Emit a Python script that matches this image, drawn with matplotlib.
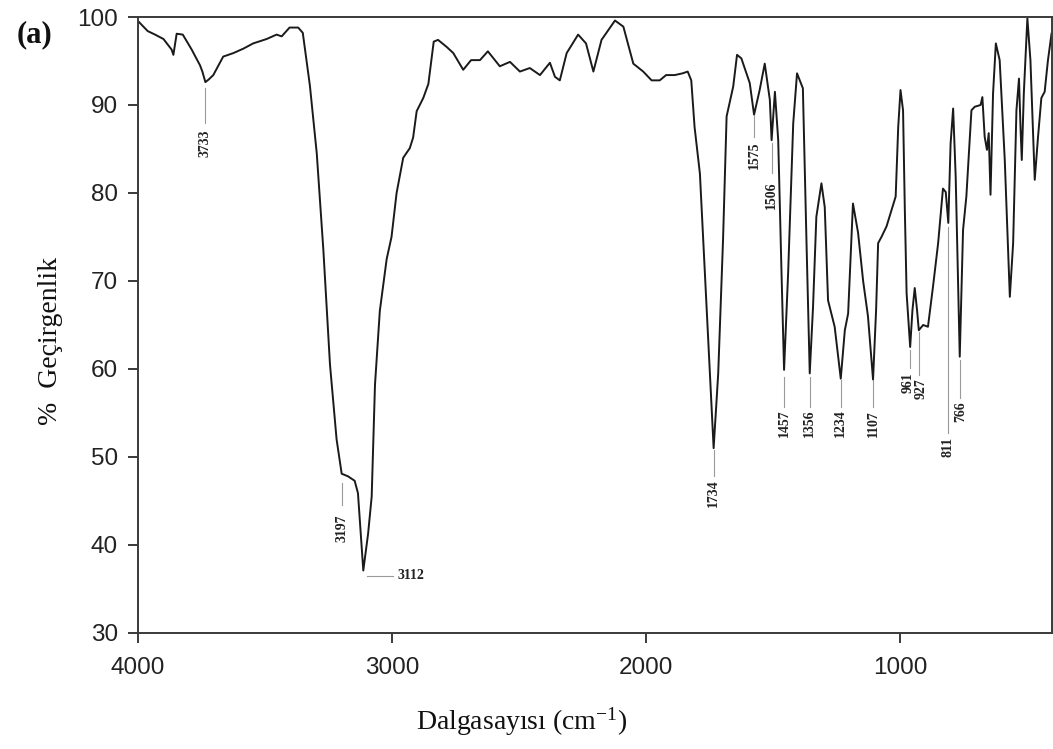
import numpy as np
import matplotlib
matplotlib.use("Agg")
import matplotlib.pyplot as plt

plt.rcParams['mathtext.fontset'] = 'custom'
plt.rcParams['mathtext.rm'] = 'Liberation Serif'
plt.rcParams['mathtext.it'] = 'Liberation Serif'

# FTIR spectrum (wavenumber in cm-1, % transmittance)
wavenumber = [4000, 3990, 3960, 3931, 3898, 3866, 3859, 3846, 3822, 3787,
              3754, 3745, 3733, 3720, 3702, 3663, 3623, 3584, 3545, 3492,
              3453, 3433, 3402, 3368, 3350, 3322, 3295, 3269, 3243, 3217,
              3197, 3172, 3146, 3133, 3112, 3093, 3079, 3066, 3047, 3020,
              3001, 2981, 2955, 2929, 2916, 2902, 2876, 2856, 2835, 2818,
              2784, 2758, 2719, 2688, 2653, 2622, 2575, 2535, 2496, 2457,
              2417, 2378, 2358, 2339, 2312, 2267, 2236, 2207, 2175, 2122,
              2089, 2050, 2011, 1978, 1946, 1921, 1887, 1856, 1836, 1822,
              1809, 1788, 1762, 1734, 1716, 1697, 1683, 1657, 1642, 1625,
              1612, 1592, 1575, 1553, 1533, 1513, 1506, 1493, 1480, 1467,
              1457, 1441, 1421, 1406, 1383, 1369, 1356, 1343, 1330, 1310,
              1297, 1284, 1258, 1234, 1218, 1205, 1186, 1166, 1146, 1127,
              1107, 1095, 1087, 1074, 1054, 1034, 1018, 1008, 999, 989,
              982, 975, 961, 952, 943, 934, 927, 910, 891, 871,
              851, 832, 821, 811, 802, 792, 782, 766, 753, 740,
              720, 707, 684, 677, 668, 659, 652, 645, 635, 624,
              609, 589, 569, 556, 543, 533, 527, 522, 514, 500,
              488, 471, 458, 445, 432, 419, 405]
transmittance = [99.6, 99.3, 98.4, 98.0, 97.5, 96.3, 95.7, 98.1, 98.0, 96.3,
                 94.5, 93.8, 92.6, 92.9, 93.4, 95.5, 95.9, 96.4, 97.0, 97.5,
                 98.0, 97.8, 98.8, 98.8, 98.2, 92.2, 84.5, 73.5, 60.5, 52.0,
                 48.1, 47.8, 47.3, 45.9, 37.1, 41.3, 45.5, 58.2, 66.6, 72.5,
                 75.0, 80.0, 84.0, 85.1, 86.3, 89.3, 90.8, 92.4, 97.2, 97.4,
                 96.6, 95.9, 94.0, 95.1, 95.1, 96.1, 94.4, 94.9, 93.8, 94.2,
                 93.4, 94.8, 93.2, 92.8, 95.9, 98.0, 97.0, 93.8, 97.4, 99.6,
                 98.9, 94.7, 93.8, 92.8, 92.8, 93.4, 93.4, 93.6, 93.8, 92.8,
                 87.5, 82.2, 67.1, 51.0, 59.5, 74.7, 88.7, 92.1, 95.7, 95.3,
                 94.2, 92.5, 88.9, 91.7, 94.7, 90.6, 86.0, 91.5, 86.0, 70.9,
                 59.9, 70.9, 87.9, 93.6, 91.9, 74.7, 59.5, 67.1, 77.3, 81.1,
                 78.4, 67.8, 64.8, 58.9, 64.4, 66.3, 78.8, 75.5, 70.0, 66.0,
                 58.8, 66.7, 74.3, 75.0, 76.2, 78.1, 79.6, 87.5, 91.7, 89.4,
                 78.1, 68.6, 62.5, 66.7, 69.2, 66.7, 64.4, 65.0, 64.8, 69.4,
                 74.3, 80.5, 80.1, 76.6, 85.6, 89.6, 81.9, 61.4, 75.8, 79.6,
                 89.4, 89.8, 90.0, 90.9, 86.4, 84.9, 86.8, 79.8, 91.3, 97.0,
                 95.1, 83.8, 68.2, 74.3, 89.4, 93.0, 87.5, 83.75, 91.3, 99.85,
                 95.1, 81.5, 86.4, 90.8, 91.5, 95.1, 98.1]

# peak labels: wavenumber, leader line top, leader line bottom, label centre (in % units)
peak_labels = [3733, 3197, 1734, 1575, 1506, 1457, 1356, 1234, 1107, 961, 927, 811, 766]
line_top = [91.9, 47.0, 50.8, 88.9, 85.7, 59.1, 59.1, 58.8, 58.8, 62.2, 64.2, 76.1, 61.0]
line_bottom = [88.0, 44.5, 47.8, 86.4, 82.3, 55.7, 55.7, 55.7, 55.7, 60.1, 59.3, 52.7, 56.7]
text_y = [85.7, 41.9, 45.9, 84.3, 79.8, 53.8, 53.8, 53.8, 53.8, 58.4, 57.8, 51.1, 55.1]
text_x = [3733, 3197, 1734, 1575, 1506, 1457, 1356, 1234, 1107, 970, 916, 811, 762]

fig = plt.figure(figsize=(10.53, 7.49), dpi=100)
ax = fig.add_axes([0.1306, 0.1549, 0.868, 0.8224])

ax.plot(wavenumber, transmittance, color='#1a1a1a', lw=1.4)

lab_font = dict(family='Liberation Serif', fontsize=10, fontweight='bold', color='#222222')
for wn, y0, y1, tx, ty in zip(peak_labels, line_top, line_bottom, text_x, text_y):
    ax.plot([wn, wn], [y0, y1], color='#9a9a9a', lw=0.8)
    ax.text(tx, ty, str(wn), rotation=90, ha='center', va='center', **lab_font)

# 3112 is labelled sideways
ax.plot([3099, 2994], [36.5, 36.5], color='#9a9a9a', lw=0.8)
ax.text(2978, 36.5, '3112', ha='left', va='center', **lab_font)

ax.set_xlim(4000, 405)
ax.set_ylim(30, 100)
ax.set_xticks([4000, 3000, 2000, 1000])
ax.set_yticks([30, 40, 50, 60, 70, 80, 90, 100])

for sp in ax.spines.values():
    sp.set_color('#3a3a3a')
    sp.set_linewidth(1.4)

ax.tick_params(direction='out', length=7, width=1.4, color='#3a3a3a',
               labelsize=17.5, labelcolor='#222222')
ax.tick_params(axis='x', pad=10)
ax.tick_params(axis='y', pad=7)
for lbl in ax.get_xticklabels() + ax.get_yticklabels():
    lbl.set_family('Liberation Sans')

ax.set_xlabel('Dalgasayısı (cm$^{-1}$)', family='Liberation Serif', fontsize=20)
ax.set_ylabel('%  Geçirgenlik', family='Liberation Serif', fontsize=20, labelpad=10)
ax.xaxis.set_label_coords(0.42, -0.117)
ax.yaxis.label.set_y(0.474)
ax.xaxis.label.set_color('#111111')
ax.yaxis.label.set_color('#111111')

fig.text(0.033, 0.953, '(a)', family='Liberation Serif', fontsize=22, fontweight='bold',
         ha='center', va='center', color='#111111')

fig.savefig('out.png', dpi=100)
